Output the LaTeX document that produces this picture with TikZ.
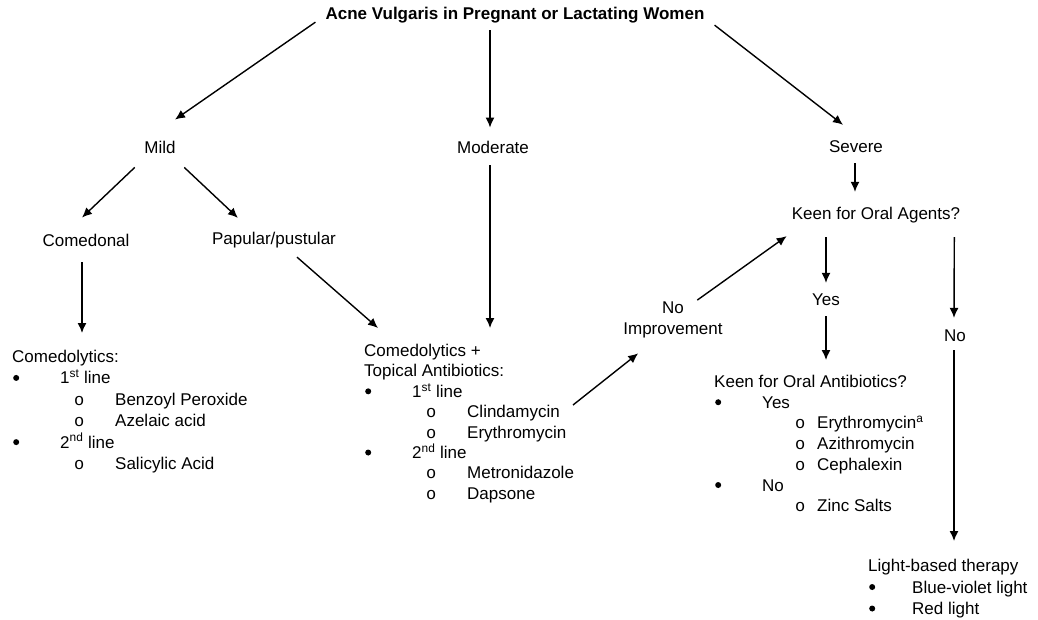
\documentclass[tikz,border=0pt]{standalone}
\usepackage{fontspec}
\setmainfont{Liberation Sans}
\newfontfamily\circfont{Liberation Mono}
\usepackage{tikz}
\usetikzlibrary{arrows.meta}
\pgfdeclarelayer{nodelayer}
\pgfdeclarelayer{edgelayer}
\pgfsetlayers{nodelayer,edgelayer,main}
\tikzset{
    txt/.style = {inner sep=0pt, font=\fontsize{17}{21}\selectfont},
    list/.style = {txt, align=left, anchor=north west}
}
\newcommand{\bigdot}{\hspace*{1pt}\tikz[baseline=-6pt]\fill (3pt,0pt) circle (3pt);}
\newcommand{\lvlone}[2][48pt]{\makebox[#1][l]{\bigdot}#2}
\newcommand{\lvltwo}[2][62pt]{\hspace*{#1}\makebox[\dimexpr103pt-#1\relax][l]{\circfont o}#2}

\begin{document}
\begin{tikzpicture}[x=1pt, y=-1pt]
    % Set arrow tips globally
    \tikzset{>={Latex[length=10pt, width=9pt]}}
    \useasboundingbox (0,0) rectangle (1038,619);
    \begin{pgfonlayer}{nodelayer}
        \node [txt, font=\fontsize{17}{21}\selectfont\bfseries] (title) at (515,15) {Acne Vulgaris in Pregnant or Lactating Women};
        \node [txt] (mild) at (160,147) {Mild};
        \node [txt] (moderate) at (493,147) {Moderate};
        \node [txt] (severe) at (856,147) {Severe};
        \node [txt] (comedonal) at (86,240) {Comedonal};
        \node [txt] (papular) at (274,240) {Papular/pustular};
        \node [txt] (keenoral) at (876,215) {Keen for Oral Agents?};
        \node [txt] (yes) at (826,300) {Yes};
        \node [txt] (no) at (955,336) {No};
        \node [txt, align=center] (noimp) at (673,320) {No\\Improvement};
        \node [list, font=\fontsize{17}{21.4}\selectfont] (comedo) at (12,350) {Comedolytics:\\
            \lvlone{1\textsuperscript{st} line}\\
            \lvltwo{Benzoyl Peroxide}\\
            \lvltwo{Azelaic acid}\\
            \lvlone{2\textsuperscript{nd} line}\\
            \lvltwo{Salicylic Acid}};
        \node [list, font=\fontsize{17}{20.4}\selectfont] (combo) at (364,344) {Comedolytics +\\
            Topical Antibiotics:\\
            \lvlone{1\textsuperscript{st} line}\\
            \lvltwo{Clindamycin}\\
            \lvltwo{Erythromycin}\\
            \lvlone{2\textsuperscript{nd} line}\\
            \lvltwo{Metronidazole}\\
            \lvltwo{Dapsone}};
        \node [list, font=\fontsize{17}{20.7}\selectfont] (keenab) at (714,375) {Keen for Oral Antibiotics?\\
            \lvlone{Yes}\\
            \lvltwo[81pt]{Erythromycin\textsuperscript{a}}\\
            \lvltwo[81pt]{Azithromycin}\\
            \lvltwo[81pt]{Cephalexin}\\
            \lvlone{No}\\
            \lvltwo[81pt]{Zinc Salts}};
        \node [list, font=\fontsize{17}{21.5}\selectfont] (light) at (868,559) {Light-based therapy\\
            \lvlone[44pt]{Blue-violet light}\\
            \lvlone[44pt]{Red light}};
    \end{pgfonlayer}
    \begin{pgfonlayer}{edgelayer}
        \draw [->, line width=1.4pt] ([shift={(-10,-1)}]title.south west) to ([shift={(15,-21)}]mild.north);
        \draw [->, line width=1.4pt] ([shift={(-25,7)}]title.south) to ([shift={(-3,-13)}]moderate.north);
        \draw [->, line width=1.4pt] ([shift={(10,2)}]title.south east) to ([shift={(-13,-16)}]severe.north);
        \draw [->, line width=1.4pt] ([shift={(-9.5,14)}]mild.south west) to ([shift={(-4,-16)}]comedonal.north);
        \draw [->, line width=1.4pt] ([shift={(8.5,14)}]mild.south east) to ([shift={(26,-14)}]papular.north west);
        \draw [->, line width=1.4pt] ([shift={(-4,16)}]comedonal.south) to ([shift={(70,-17)}]comedo.north west);
        \draw [->, line width=1.4pt] ([shift={(23,9)}]papular.south) to ([shift={(14,-16)}]combo.north west);
        \draw [->, line width=1.4pt] ([shift={(-3,12)}]moderate.south) to ([shift={(126,-16)}]combo.north west);
        \draw [->, line width=1.4pt] ([shift={(209,61)}]combo.north west) to ([shift={(15,15)}]noimp.south west);
        \draw [->, line width=1.4pt] ([shift={(-25.5,-1.6)}]noimp.north east) to ([shift={(-5,13)}]keenoral.south west);
        \draw [->, line width=1.4pt] ([shift={(-1,10)}]severe.south) to ([shift={(-21,-15)}]keenoral.north);
        \draw [->, line width=1.4pt] ([shift={(-50,14)}]keenoral.south) to ([shift={(0,-11)}]yes.north);
        \draw [->, line width=1.4pt] ([shift={(-6,14)}]keenoral.south east) to ([shift={(-1,-12)}]no.north);
        \draw [->, line width=1.4pt] ([shift={(0,10)}]yes.south) to ([shift={(112,-15)}]keenab.north west);
        \draw [->, line width=1.4pt] ([shift={(-1,8)}]no.south) to ([shift={(86,-18)}]light.north west);
    \end{pgfonlayer}
\end{tikzpicture}
\end{document}
